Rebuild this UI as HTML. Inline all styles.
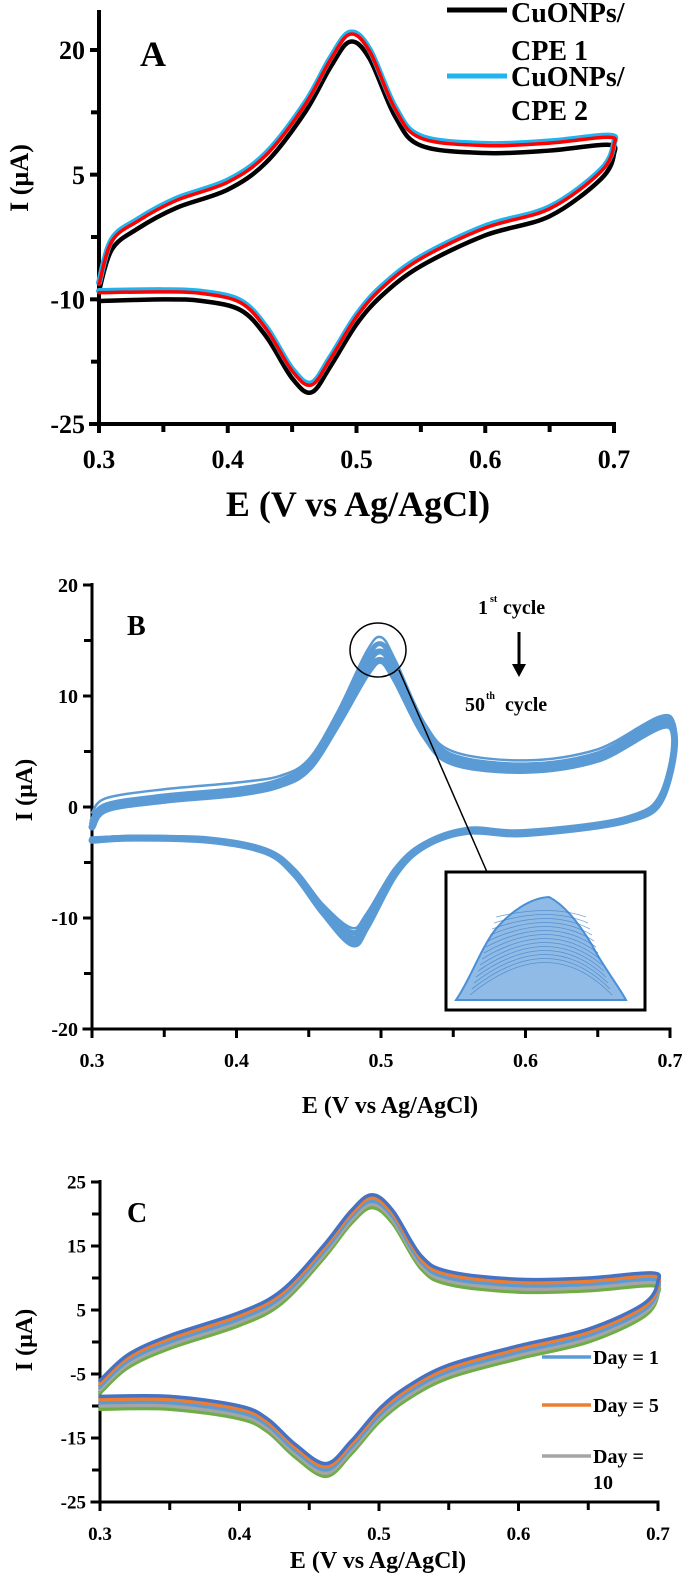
<!DOCTYPE html>
<html><head><meta charset="utf-8"><style>
html,body{margin:0;padding:0;background:#fff;}
svg{display:block;font-family:"Liberation Serif",serif;font-weight:bold;}
</style></head><body>
<svg id="fig" width="686" height="1575" viewBox="0 0 686 1575" xmlns="http://www.w3.org/2000/svg"></svg>
<script>
// ---------- Panel A data ----------
const aE = [0.30,0.31,0.33,0.36,0.40,0.43,0.46,0.48,0.495,0.51,0.53,0.55,0.60,0.65,0.695,0.70,0.69,0.65,0.60,0.55,0.52,0.50,0.48,0.465,0.45,0.43,0.41,0.38,0.35,0.30];
const aCPE1 = [-9,-4,-1.5,1,3.2,6.5,12.5,18,21,19,12,8.5,7.6,7.9,8.6,7.5,4.5,0,-2.3,-6,-9.5,-13,-18,-21.2,-19.5,-14.5,-11.3,-10.2,-10,-10.2];
const aCPE2 = [-8,-2.8,-0.4,2.1,4.3,7.6,13.6,19.1,22.1,20.1,13.1,9.6,8.7,9,9.7,8.8,5.6,1.1,-1.2,-4.9,-8.4,-11.9,-16.9,-20.1,-18.4,-13.4,-10.2,-9.1,-8.9,-9];
const aRed = [-8.2,-3,-0.6,1.9,4.1,7.4,13.4,18.9,21.9,19.9,12.9,9.4,8.5,8.8,9.5,8.6,5.4,0.9,-1.4,-5.1,-8.6,-12.1,-17.1,-20.3,-18.6,-13.6,-10.4,-9.3,-9.1,-9.2];
const aYTicks = [20,5,-10,-25];
const aXTicks = [0.3,0.4,0.5,0.6,0.7];
// ---------- Panel B data ----------
const bE = [0.30,0.31,0.35,0.40,0.43,0.45,0.47,0.49,0.50,0.51,0.53,0.55,0.60,0.65,0.70,0.695,0.67,0.60,0.56,0.53,0.51,0.49,0.48,0.46,0.44,0.42,0.38,0.33,0.30];
const bCycle50 = [-1.8,-0.2,0.6,1.2,2,3.5,7.5,12,13.2,11.5,6.5,4,3.3,4.3,7.3,1.0,-1.2,-2.4,-2.2,-3.5,-6,-10.8,-12.3,-9.5,-6,-4,-3,-2.8,-3];
const bCycle25 = [-1.5,0,0.8,1.4,2.2,3.8,8,12.8,14.0,12.2,7,4.4,3.6,4.6,7.6,1.2,-1.1,-2.3,-2.1,-3.4,-5.8,-10.3,-11.8,-9.2,-5.8,-3.9,-2.9,-2.8,-2.9];
const bCycle10 = [-1.2,0.2,1.0,1.6,2.4,4.0,8.3,13.4,14.7,12.7,7.2,4.6,3.8,4.8,7.9,1.4,-1.0,-2.2,-2.0,-3.3,-5.6,-9.9,-11.3,-9.0,-5.7,-3.9,-2.9,-2.7,-2.9];
const bCycle1 = [-0.5,0.8,1.6,2.2,2.8,4.3,8.6,14,15.3,13.2,7.6,5,4.2,5.2,8.2,1.5,-0.9,-2.2,-2.0,-3.3,-5.5,-9.6,-10.9,-8.8,-5.6,-3.8,-2.9,-2.7,-2.9];
const bYTicks = [20,10,0,-10,-20];
const bXTicks = [0.3,0.4,0.5,0.6,0.7];
// ---------- Panel C data ----------
const cE = [0.30,0.32,0.35,0.40,0.43,0.46,0.48,0.495,0.51,0.53,0.55,0.60,0.65,0.695,0.70,0.69,0.65,0.60,0.55,0.52,0.50,0.48,0.462,0.44,0.42,0.40,0.35,0.30];
const cDay1 = [-6,-2,1,4.6,8,15,20.5,23,20.5,13.5,11,9.8,10,10.8,9.5,6,2,-0.6,-3.6,-7,-10.5,-15.5,-19,-16,-12,-10,-8.5,-8.5];
const cDay5 = [-6.5,-2.5,0.5,4.1,7.5,14.5,20,22.5,20,13,10.5,9.3,9.5,10.3,9,5.5,1.5,-1.1,-4.1,-7.5,-11,-16,-19.5,-16.5,-12.5,-10.5,-9,-9];
const cDay10 = [-7,-3,0,3.6,7,14,19.5,22,19.5,12.5,10,8.8,9,9.8,8.5,5,1,-1.6,-4.6,-8,-11.5,-16.5,-20,-17,-13,-11,-9.5,-9.5];
const cDayX = [-7.5,-3.5,-0.5,3.1,6.5,13.5,19,21.5,19,12,9.5,8.3,8.5,9.3,8,4.5,0.5,-2.1,-5.1,-8.5,-12,-17,-20.5,-17.5,-13.5,-11.5,-10,-10];
const cDayY = [-8,-4,-1,2.6,6,13,18.5,21,18.5,11.5,9,7.8,8,8.8,7.5,4,0,-2.6,-5.6,-9,-12.5,-17.5,-21,-18,-14,-12,-10.5,-10.5];
const cYTicks = [25,15,5,-5,-15,-25];
const cXTicks = [0.3,0.4,0.5,0.6,0.7];

const NS = "http://www.w3.org/2000/svg";
const svg = document.getElementById('fig');
function el(tag, attrs, parent, text){
  const e = document.createElementNS(NS, tag);
  for (const k in attrs) e.setAttribute(k, attrs[k]);
  if (text !== undefined) e.textContent = text;
  (parent || svg).appendChild(e);
  return e;
}
function scaler(d0,d1,r0,r1){ return v => r0 + (v-d0)/(d1-d0)*(r1-r0); }
function pathFrom(xs, ys, sx, sy){
  const p = xs.map((x,i)=>[sx(x), sy(ys[i])]);
  let d = `M${p[0][0]},${p[0][1]}`;
  for (let i=0;i<p.length-1;i++){
    const p0=p[Math.max(0,i-1)], p1=p[i], p2=p[i+1], p3=p[Math.min(p.length-1,i+2)];
    const t=6;
    d += ` C${p1[0]+(p2[0]-p0[0])/t},${p1[1]+(p2[1]-p0[1])/t} ${p2[0]-(p3[0]-p1[0])/t},${p2[1]-(p3[1]-p1[1])/t} ${p2[0]},${p2[1]}`;
  }
  return d;
}
function axes(g, o){
  const sx = scaler(0.3,0.7,o.x0,o.x1), sy = scaler(o.ymin,o.ymax,o.y0,o.y1);
  const yAxis = el('line',{x1:o.x0,y1:o.y0,x2:o.x0,y2:o.ytop,stroke:'#000','stroke-width':o.lw},g);
  
  
  const xAxis = el('line',{x1:o.x0-o.lw/2-8,y1:o.y0,x2:o.x1+o.lw/2,y2:o.y0,stroke:'#000','stroke-width':o.lw},g);
  
  
  o.yt.forEach((v,i)=>{
    const y = sy(v);
    el('line',{x1:o.x0-9,y1:y,x2:o.x0,y2:y,stroke:'#000','stroke-width':o.lw},g);
    if (i<o.yt.length-1){ const ym=(y+sy(o.yt[i+1]))/2; el('line',{x1:o.x0-8,y1:ym,x2:o.x0,y2:ym,stroke:'#000','stroke-width':o.lw},g); }
    const t = el('text',{x:o.x0-14,y:y+o.fs*0.35,'text-anchor':'end','font-size':o.fs},g,String(v));
    
    
  });
  o.xt.forEach((v,i)=>{
    const x = sx(v);
    el('line',{x1:x,y1:o.y0,x2:x,y2:o.y0+9,stroke:'#000','stroke-width':o.lw},g);
    if (i<o.xt.length-1){ const xm=(x+sx(o.xt[i+1]))/2; el('line',{x1:xm,y1:o.y0,x2:xm,y2:o.y0+8,stroke:'#000','stroke-width':o.lw},g); }
    const t = el('text',{x:x,y:o.xly,'text-anchor':'middle','font-size':o.fs},g,v.toFixed(1));
    
    
  });
  const xt = el('text',{x:o.xtx,y:o.xty,'text-anchor':'middle','font-size':o.xfs},g,'E (V vs Ag/AgCl)');
  
  
  const yt = el('text',{x:0,y:0,'text-anchor':'middle','font-size':o.yfs,transform:`translate(${o.ytx},${o.yty}) rotate(-90)`},g,'I (µA)');
  
  
  return {sx,sy};
}
function curve(g,xs,ys,s,color,w,name){
  const p = el('path',{d:pathFrom(xs,ys,s.sx,s.sy),fill:'none',stroke:color,'stroke-width':w,'stroke-linejoin':'round','stroke-linecap':'round'},g);
  
  
}

// ===== Panel A =====
const gA = el('g',{});


const sA = axes(gA,{x0:99,x1:614,y0:424,y1:50,ymin:-25,ymax:20,ytop:10,lw:4,yt:aYTicks,xt:aXTicks,fs:26,xly:468,xtx:358,xty:516,xfs:36,ytx:28,yty:178,yfs:26});
curve(gA,aE,aCPE1,sA,'#000',4.5,'series-cpe1');
curve(gA,aE,aCPE2,sA,'#1fb4ef',6,'series-cpe2');
curve(gA,aE,aRed,sA,'#ff0000',3.5,'series-red');
const la = el('text',{x:140,y:66,'font-size':36},gA,'A');


const lg1 = el('line',{x1:447,y1:10,x2:507,y2:10,stroke:'#000','stroke-width':5},gA);


const lg2 = el('line',{x1:447,y1:76,x2:507,y2:76,stroke:'#1fb4ef','stroke-width':5},gA);


[['CuONPs/',22],['CPE 1',60],['CuONPs/',86],['CPE 2',120]].forEach(([t,y])=>{
  const e = el('text',{x:511,y:y,'font-size':28},gA,t);
  
  
});

// ===== Panel B =====
const gB = el('g',{});


const sB = axes(gB,{x0:92,x1:670,y0:1029,y1:585,ymin:-20,ymax:20,ytop:583,lw:3,yt:bYTicks,xt:bXTicks,fs:20,xly:1067,xtx:390,xty:1113,xfs:24,ytx:32,yty:790,yfs:24});
curve(gB,bE,bCycle50,sB,'#5b9bd5',7,'series-cycle-50');
curve(gB,bE,bCycle25,sB,'#5b9bd5',6,'series-cycle-25');
curve(gB,bE,bCycle10,sB,'#5b9bd5',5,'series-cycle-10');
curve(gB,bE,bCycle1,sB,'#5b9bd5',2.5,'series-cycle-1');
const lb = el('text',{x:127,y:635,'font-size':28},gB,'B');


const c1 = el('text',{x:478,y:614,'font-size':20},gB,'1');


el('text',{x:490,y:602,'font-size':10},gB,'st');
el('text',{x:503,y:614,'font-size':20},gB,'cycle');
const ar = el('line',{x1:519,y1:632,x2:519,y2:666,stroke:'#000','stroke-width':3},gB);


el('polygon',{points:'512,664 526,664 519,677',fill:'#000'},gB);
const c2 = el('text',{x:465,y:711,'font-size':20},gB,'50');


el('text',{x:486,y:699,'font-size':10},gB,'th');
el('text',{x:505,y:711,'font-size':20},gB,'cycle');
const circ = el('ellipse',{cx:378,cy:650,rx:28,ry:27,fill:'none',stroke:'#000','stroke-width':1.5},gB);


el('line',{x1:399,y1:670,x2:487,y2:872,stroke:'#000','stroke-width':1.5},gB);
const box = el('rect',{x:446,y:872,width:199,height:138,fill:'#fff',stroke:'#000','stroke-width':3},gB);


const ins = el('path',{d:'M456,1000 C470,980 480,950 495,930 C510,912 530,898 549,897 C565,905 580,925 592,945 C602,965 618,985 626,1000 Z',fill:'#8fbbe6',stroke:'#4a90d9','stroke-width':2},gB);


for(let k=0;k<14;k++){ el('path',{d:`M${470+k*2},${995-k*6} Q549,${930-k*2} ${612-k*2},${995-k*6}`,fill:'none',stroke:'#3f7fc4','stroke-width':0.8,opacity:0.7},gB); }

// ===== Panel C =====
const gC = el('g',{});


const sC = axes(gC,{x0:100,x1:658,y0:1502,y1:1182,ymin:-25,ymax:25,ytop:1180,lw:3,yt:cYTicks,xt:cXTicks,fs:19,xly:1540,xtx:378,xty:1568,xfs:24,ytx:32,yty:1340,yfs:24});
curve(gC,cE,cDayY,sC,'#70ad47',3.5,'series-green');
curve(gC,cE,cDayX,sC,'#a5a5a5',3.5,'series-day-10');
curve(gC,cE,cDay10,sC,'#5b9bd5',3.5,'series-light-blue');
curve(gC,cE,cDay5,sC,'#ed7d31',3.5,'series-day-5');
curve(gC,cE,cDay1,sC,'#4472c4',3.5,'series-day-1');
const lc = el('text',{x:127,y:1222,'font-size':28},gC,'C');


[['#5b9bd5',1357,'Day = 1'],['#ed7d31',1405,'Day = 5'],['#a5a5a5',1456,'Day =']].forEach(([c,y,t])=>{
  el('line',{x1:542,y1:y,x2:591,y2:y,stroke:c,'stroke-width':3.5},gC);
  const e = el('text',{x:593,y:y+7,'font-size':20},gC,t);
  
  
});
el('text',{x:593,y:1489,'font-size':20},gC,'10');
</script>
</body></html>
